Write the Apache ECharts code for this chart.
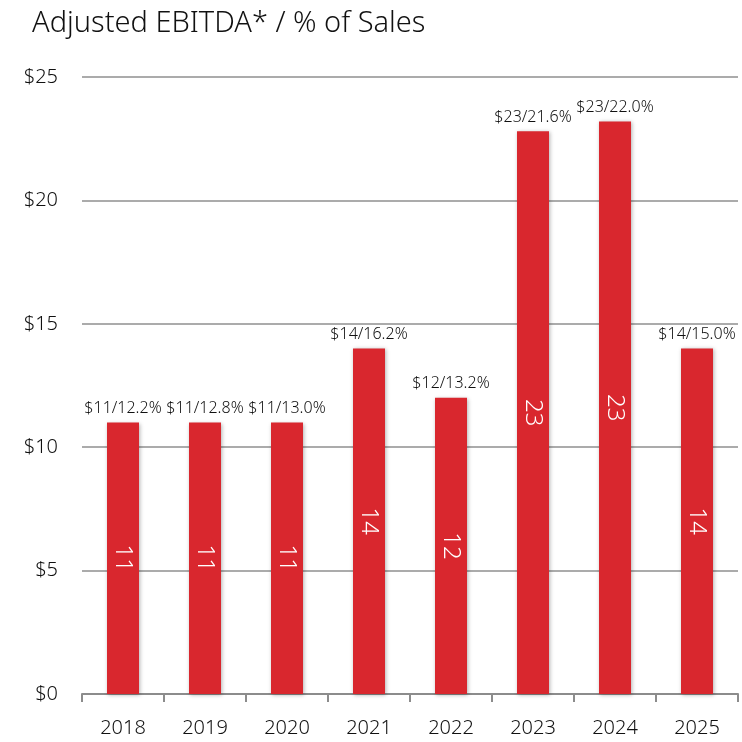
<!DOCTYPE html>
<html>
<head>
<meta charset="utf-8">
<script src="https://cdn.jsdelivr.net/npm/echarts@6/dist/echarts.min.js"></script>
<style>
  html, body { margin: 0; padding: 0; background: #fff; }
  #chart { width: 742px; height: 742px; }
</style>
</head>
<body>
<div id="chart"></div>
<script>
// data
var years = ['2018', '2019', '2020', '2021', '2022', '2023', '2024', '2025'];
var ebitda = [11, 11, 11, 14, 12, 22.8, 23.2, 14];
var pctSales = ['12.2', '12.8', '13.0', '16.2', '13.2', '21.6', '22.0', '15.0'];

var font = 'Noto Sans';
var ink = '#111';
var chart = echarts.init(document.getElementById('chart'));

chart.setOption({
  animation: false,
  title: {
    text: 'Adjusted EBITDA* / % of Sales',
    left: 27,
    top: 4,
    textStyle: { fontFamily: font, fontSize: 29, fontWeight: 300, color: ink }
  },
  grid: { left: 82, right: 4, top: 77, bottom: 48 },
  xAxis: {
    type: 'category',
    data: years,
    axisLine: { lineStyle: { color: '#8c8c8c', width: 2 } },
    axisTick: { show: true, length: 8, lineStyle: { color: '#8c8c8c', width: 2 } },
    axisLabel: { fontFamily: font, fontSize: 20, fontWeight: 300, color: ink, margin: 24 }
  },
  yAxis: {
    type: 'value',
    min: 0,
    max: 25,
    interval: 5,
    axisLabel: {
      fontFamily: font, fontSize: 20, fontWeight: 300, color: ink, margin: 24,
      formatter: function (v) { return '$' + v; }
    },
    axisLine: { show: false },
    axisTick: { show: false },
    splitLine: { lineStyle: { color: '#8f8f8f', width: 1.5 } }
  },
  series: [
    {
      type: 'bar',
      data: ebitda,
      barWidth: 32,
      itemStyle: {
        color: '#d9272e',
        shadowColor: 'rgba(0,0,0,0.3)',
        shadowBlur: 4,
        shadowOffsetX: 1,
        shadowOffsetY: 1
      },
      label: {
        show: true,
        position: 'inside',
        rotate: -90,
        fontFamily: font,
        fontSize: 24,
        fontWeight: 300,
        color: '#fff',
        formatter: function (p) { return Math.round(p.value); }
      }
    },
    {
      type: 'bar',
      data: ebitda,
      barWidth: 32,
      barGap: '-100%',
      itemStyle: { color: 'transparent' },
      label: {
        show: true,
        position: 'top',
        distance: 6,
        fontFamily: font,
        fontSize: 16,
        fontWeight: 300,
        color: ink,
        formatter: function (p) {
          return '$' + Math.round(p.value) + '/' + pctSales[p.dataIndex] + '%';
        }
      },
      z: 3
    }
  ]
});
</script>
</body>
</html>
